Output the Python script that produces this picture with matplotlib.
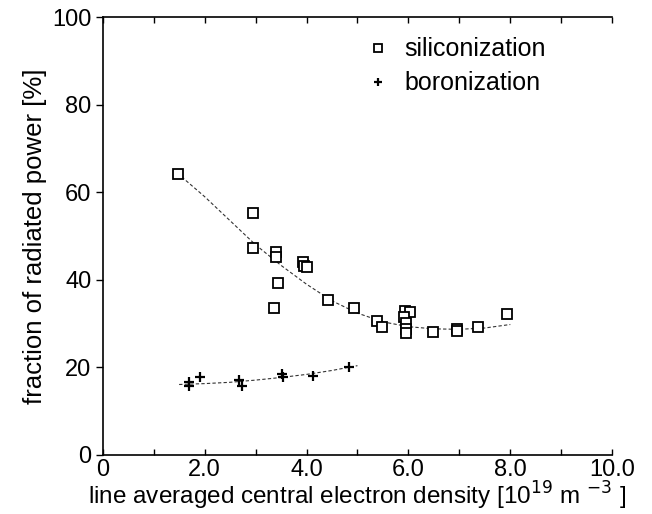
import numpy as np
import matplotlib
matplotlib.use("Agg")
import matplotlib.pyplot as plt

plt.rcParams['font.family'] = ['Liberation Sans', 'DejaVu Sans']

# siliconization data (density in 1e19 m^-3, radiated fraction in %)
si_density = [1.48, 2.95, 2.95, 3.41, 3.40, 3.44, 3.36, 3.93, 3.95, 4.00, 4.42,
              4.93, 5.39, 5.48, 5.94, 6.03, 5.91, 5.96, 5.95, 5.95, 6.48,
              6.95, 6.95, 7.36, 7.93]
si_power = [64.2, 55.3, 47.2, 46.3, 45.3, 39.3, 33.5, 44.1, 43.2, 43.0, 35.3,
            33.6, 30.7, 29.2, 32.9, 32.6, 31.4, 30.2, 28.8, 27.8, 28.0,
            28.8, 28.2, 29.2, 32.3]

# boronization data
b_density = [1.70, 1.70, 1.91, 2.68, 2.74, 3.51, 3.53, 4.13, 4.84]
b_power = [16.7, 15.8, 17.9, 17.1, 15.8, 18.6, 17.7, 18.1, 20.2]

# fitted curves
si_fit_x = [1.55, 2.0, 2.5, 3.0, 3.5, 4.0, 4.5, 5.0, 5.5, 6.0, 6.5, 7.0, 7.5, 8.0]
si_fit_y = [63.5, 59.0, 53.5, 48.0, 43.3, 39.0, 35.2, 32.4, 30.4, 29.3, 28.8, 28.7, 29.0, 29.8]
b_fit_x = [1.5, 2.0, 2.5, 3.0, 3.5, 4.0, 4.5, 5.0]
b_fit_y = [16.1, 16.3, 16.6, 17.1, 17.7, 18.4, 19.3, 20.4]

xticks = [0, 2, 4, 6, 8, 10]
xticklabels = ["0", "2.0", "4.0", "6.0", "8.0", "10.0"]
yticks = [0, 20, 40, 60, 80, 100]


def main():
    fig = plt.figure(figsize=(6.52, 5.14), dpi=100)
    ax = fig.add_axes([0.1575, 0.1148, 0.7815, 0.852])

    ax.plot(si_fit_x, si_fit_y, color="#333333", lw=0.8, ls=(0, (3, 2)))
    ax.plot(b_fit_x, b_fit_y, color="#333333", lw=0.8, ls=(0, (3, 2)))

    ax.plot(si_density, si_power, ls="none", marker="s", ms=6.5,
            mfc="white", mec="black", mew=1.3, label="siliconization")
    ax.plot(b_density, b_power, ls="none", marker="+", ms=7,
            color="black", mew=1.6, label="boronization")

    ax.set_xlim(0, 10)
    ax.set_ylim(0, 100)
    ax.set_xticks(xticks)
    ax.set_xticklabels(xticklabels)
    ax.set_xticks(np.arange(1, 10, 2), minor=True)
    ax.set_yticks(yticks)

    ax.spines["right"].set_visible(False)
    for s in ["left", "bottom", "top"]:
        ax.spines[s].set_linewidth(1.2)

    ax.tick_params(axis="x", which="both", direction="in", top=True,
                   length=4, width=1, labelsize=17, pad=3)
    ax.tick_params(axis="y", which="both", direction="out", length=5,
                   width=1, labelsize=17, pad=3)

    ax.set_xlabel("line averaged central electron density [10$^{19}$ m $^{-3}$ ]",
                  fontsize=17.5, labelpad=-1)
    ax.set_ylabel("fraction of radiated power [%]", fontsize=18.5, labelpad=4)

    ax.legend(loc="upper left", bbox_to_anchor=(0.475, 1.005), frameon=False,
              fontsize=18, markerscale=0.85, handlelength=0.9,
              handletextpad=0.6, labelspacing=0.4)

    fig.savefig("out.png", dpi=100)
    plt.close(fig)


if __name__ == "__main__":
    main()
